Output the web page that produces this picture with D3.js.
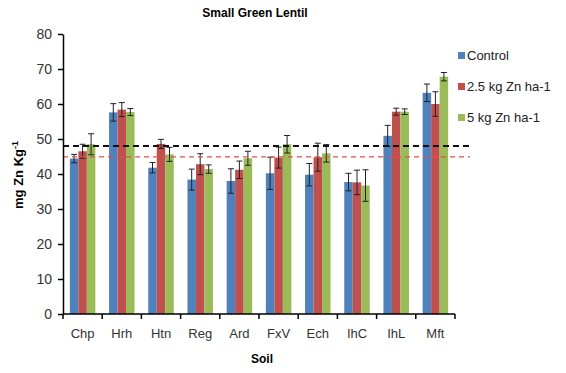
<!DOCTYPE html>
<html><head><meta charset="utf-8">
<script src="https://cdn.jsdelivr.net/npm/d3@7"></script>
<style>body{margin:0;background:#fff}svg{display:block}text{font-family:"Liberation Sans",Arial,sans-serif}</style>
</head><body><svg id="c" width="566" height="373"></svg>
<script>
const categories = ["Chp","Hrh","Htn","Reg","Ard","FxV","Ech","IhC","IhL","Mft"];
const seriesNames = ["Control","2.5 kg Zn ha-1","5 kg Zn ha-1"];
const colors = ["#4F81BD","#C0504D","#9BBB59"];
const control = [44.4,57.6,41.8,38.4,38.0,40.2,39.8,37.7,50.9,63.2];
const zn25 = [46.5,58.4,48.6,42.8,41.2,44.7,44.8,37.6,57.8,60.0];
const zn5 = [48.5,57.7,45.6,41.4,44.5,48.5,45.9,36.7,57.8,67.8];
const errControl = [1.2,2.5,1.5,3.0,3.5,4.6,3.2,2.5,3.0,2.5];
const err25 = [2.0,2.0,1.3,3.0,2.5,3.0,4.0,3.5,1.0,3.5];
const err5 = [3.0,1.0,2.0,1.2,2.0,2.5,2.5,4.5,0.8,1.2];
const refBlack = 48;
const refRed = 44.9;
const yTicks = [0,10,20,30,40,50,60,70,80];

const values = [control, zn25, zn5];
const errs = [errControl, err25, err5];

const svg = d3.select("#c");
const x = d3.scaleBand().domain(categories).range([63, 455]);
const y = d3.scaleLinear().domain([0, 80]).range([314, 34]);
const bw = 8.5;

// bars
categories.forEach((c, i) => {
  const cx = x(c) + x.bandwidth() / 2;
  values.forEach((vals, s) => {
    const bx = cx - 1.5 * bw + s * bw;
    svg.append("rect").attr("x", bx).attr("y", y(vals[i]))
      .attr("width", bw).attr("height", y(0) - y(vals[i]))
      .attr("fill", colors[s]);
  });
});
// error bars
categories.forEach((c, i) => {
  const cx = x(c) + x.bandwidth() / 2;
  values.forEach((vals, s) => {
    const ex = cx - 1.5 * bw + s * bw + bw / 2;
    const lo = y(vals[i] - errs[s][i]), hi = y(vals[i] + errs[s][i]);
    const g = svg.append("g").attr("stroke", "#222").attr("stroke-width", 1);
    g.append("line").attr("x1", ex).attr("x2", ex).attr("y1", lo).attr("y2", hi);
    g.append("line").attr("x1", ex - 3).attr("x2", ex + 3).attr("y1", lo).attr("y2", lo);
    g.append("line").attr("x1", ex - 3).attr("x2", ex + 3).attr("y1", hi).attr("y2", hi);
  });
});

// reference lines
svg.append("line").attr("x1", 63).attr("x2", 470).attr("y1", y(refRed)).attr("y2", y(refRed))
  .attr("stroke", "#D9534F").attr("stroke-width", 1.2).attr("stroke-dasharray", "5,4");
svg.append("line").attr("x1", 63).attr("x2", 470).attr("y1", y(refBlack)).attr("y2", y(refBlack))
  .attr("stroke", "#111").attr("stroke-width", 2).attr("stroke-dasharray", "6,4");

// axes
const ya = svg.append("g").attr("transform", "translate(63,0)")
  .call(d3.axisLeft(y).tickValues(yTicks).tickSize(5).tickSizeOuter(0).tickPadding(6));
ya.select(".domain").attr("stroke", "#000").attr("stroke-width", 1.5);
ya.selectAll(".tick line").attr("stroke", "#000").attr("stroke-width", 1.5);
ya.selectAll("text").attr("font-size", 14).attr("fill", "#333");

const xa = svg.append("g").attr("transform", "translate(0,314)");
xa.append("line").attr("x1", 63).attr("x2", 455).attr("y1", 0).attr("y2", 0).attr("stroke", "#000").attr("stroke-width", 1.5);
categories.concat(["__end"]).forEach((c, i) => {
  const px = i < categories.length ? x(c) : x.range()[1];
  xa.append("line").attr("x1", px).attr("x2", px).attr("y1", 0).attr("y2", 5).attr("stroke", "#000").attr("stroke-width", 1.5);
});
categories.forEach(c => {
  xa.append("text").attr("x", x(c) + x.bandwidth() / 2).attr("y", 24)
    .attr("text-anchor", "middle").attr("font-size", 13).attr("fill", "#333").text(c);
});

// titles
svg.append("text").attr("x", 255).attr("y", 17).attr("text-anchor", "middle")
  .attr("font-size", 12).attr("font-weight", "bold").text("Small Green Lentil");
svg.append("text").attr("x", 262).attr("y", 363).attr("text-anchor", "middle")
  .attr("font-size", 12).attr("font-weight", "bold").text("Soil");
const yl = svg.append("text").attr("transform", "translate(23,175) rotate(-90)")
  .attr("text-anchor", "middle").attr("font-size", 13).attr("font-weight", "bold");
yl.append("tspan").text("mg Zn Kg");
yl.append("tspan").attr("dy", -5).attr("font-size", 9).text("-1");

// legend
const lg = svg.append("g");
seriesNames.forEach((n, i) => {
  const ly = 56 + i * 31;
  lg.append("rect").attr("x", 458).attr("y", ly - 4).attr("width", 7).attr("height", 7).attr("fill", colors[i]);
  lg.append("text").attr("x", 467).attr("y", ly + 4).attr("font-size", 13).attr("fill", "#222").text(n);
});
</script></body></html>
